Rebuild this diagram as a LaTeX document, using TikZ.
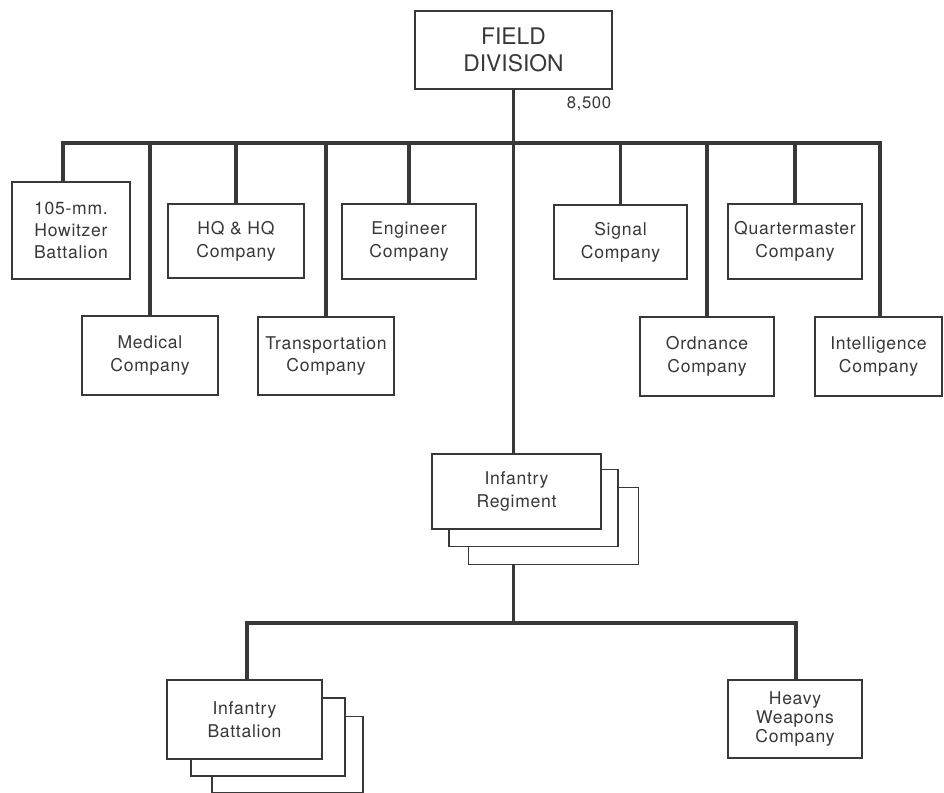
\documentclass[tikz,border=0pt]{standalone}
\usepackage{fontspec}
\setmainfont{TeX Gyre Heros}[LetterSpace=4]
\newfontfamily\headfont{TeX Gyre Heros}
\usepackage{tikz}
\usetikzlibrary{positioning}
\definecolor{ink}{gray}{0.22}

\begin{document}
\begin{tikzpicture}[x=0.02cm, y=-0.02cm,
    unit/.style 2 args =
         {
             draw=ink, line width=1.1pt, fill=white, text=ink, align=center, inner sep=0pt,
             font=\fontsize{10}{13}\selectfont,
             minimum width=#1*0.02cm, minimum height=#2*0.02cm
         },
    link/.style = {draw=ink, line width=2.1pt}]
      \useasboundingbox (0,0) rectangle (944,793);

      \node[unit={197}{78}, font=\headfont\fontsize{13}{15.5}\selectfont] (fd) at (513.5,50) {FIELD\\DIVISION};
      \node[text=ink, font=\fontsize{9.5}{11}\selectfont] (size) at (589,104) {8,500};

      \node[unit={118}{97}, font=\fontsize{10}{12.5}\selectfont] (how) at (71,230.5) {105-mm.\\Howitzer\\Battalion};
      \node[unit={136}{74}] (hq) at (236,241) {HQ \& HQ\\Company};
      \node[unit={134}{75}] (eng) at (409,241.5) {Engineer\\Company};
      \node[unit={133}{74}] (sig) at (620.5,242) {Signal\\Company};
      \node[unit={134}{75}] (qm) at (795,241.5) {Quartermaster\\Company};

      \node[unit={136}{79}] (med) at (150,355.5) {Medical\\Company};
      \node[unit={136}{78}] (trans) at (326,356) {Transportation\\Company};
      \node[unit={134}{79}] (ord) at (707,356.5) {Ordnance\\Company};
      \node[unit={127}{79}] (intel) at (878.5,356.5) {Intelligence\\Company};

      \node[unit={170}{77}] (reg3) at (553.5,526) {};
      \node[unit={169}{77}] (reg2) at (533.5,508) {};
      \node[unit={169}{75}] (reg) at (516.5,491.5) {Infantry\\Regiment};

      \node[unit={151}{76}] (bat3) at (287.5,754.5) {};
      \node[unit={154}{78}] (bat2) at (268,737) {};
      \node[unit={155}{79}] (bat) at (244.5,719.5) {Infantry\\Battalion};
      \node[unit={134}{78}, font=\fontsize{10}{11}\selectfont] (hwc) at (795,719) {Heavy\\Weapons\\Company};

      \coordinate (hw) at (63,143);
      \coordinate (iw) at (880,143);
      \coordinate (bw) at (247,623);
      \coordinate (kw) at (796,623);

      \draw[link] (fd.south) -- (fd.south |- reg.north);
      \draw[link] (how.north -| hw) -- (hw) -- (iw) -- (intel.north -| iw);
      \foreach \n in {hq, eng, sig, qm, med, trans, ord}
        \draw[link] (\n.north) -- (\n.north |- hw);

      \draw[link] (fd.south |- reg3.south) -- (fd.south |- bw);
      \draw[link] (bat.north -| bw) -- (bw) -- (kw) -- (hwc.north -| kw);
    \end{tikzpicture}
\end{document}
